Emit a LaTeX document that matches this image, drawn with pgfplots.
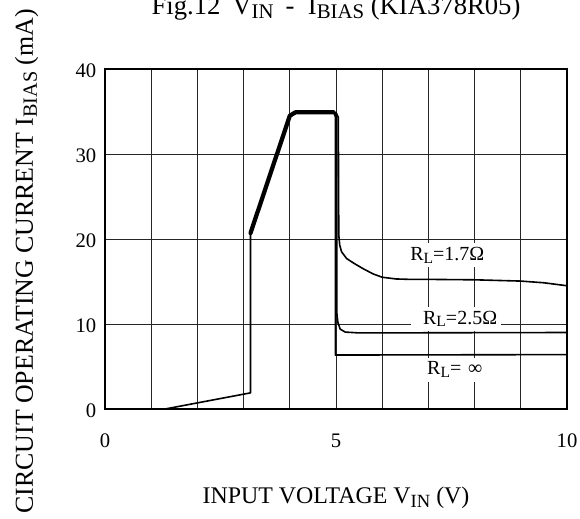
\documentclass[border=0pt]{standalone}
\usepackage{fontspec}
\setmainfont{Liberation Serif}
\usepackage{graphicx}
\usepackage{pgfplots}
\pgfplotsset{compat=1.18}
% lowered, slightly reduced subscript as in the datasheet
\newcommand{\sub}[1]{\raisebox{-0.32ex}{\scalebox{0.78}{#1}}}

\begin{document}
\begin{tikzpicture}
\begin{axis}[
  at={(0,0)}, anchor=south west,
  scale only axis, width=346.5pt, height=255pt,
  xmin=0, xmax=10, ymin=0, ymax=40,
  xtick={0,5,10}, minor xtick={1,2,3,4,6,7,8,9},
  ytick={0,10,20,30,40},
  grid=both,
  major grid style={draw=black!85, line width=0.7pt},
  minor grid style={draw=black!85, line width=0.7pt},
  axis line style={line width=1.5pt},
  major tick length=0pt, minor tick length=0pt,
  /pgf/number format/assume math mode=true,
  tick label style={font=\fontsize{15.5}{18}\selectfont},
  xticklabel style={anchor=base, yshift=-29pt},
  yticklabel style={anchor=east, xshift=-3pt, yshift=-1.5pt},
  title={Fig.12\hspace{9pt}V\sub{IN}\hspace{9pt}-\hspace{10pt}I\sub{BIAS} (KIA378R05)},
  every axis title shift=0pt,
  title style={at={(rel axis cs:0.5,1)}, anchor=base, yshift=41pt,
    font=\fontsize{20}{24}\selectfont},
  xlabel={INPUT VOLTAGE V\sub{IN} (V)},
  xlabel style={at={(rel axis cs:0.5,0)}, anchor=base, yshift=-71pt,
    font=\fontsize{17.9}{21}\selectfont},
  ylabel={CIRCUIT OPERATING CURRENT I\sub{BIAS} (mA)},
  ylabel style={at={([xshift=-54pt]rel axis cs:0,0.434)}, anchor=base,
    font=\fontsize{19.4}{23}\selectfont},
]
% labels first, so the curves lie over their white boxes
\node[fill=white, inner sep=3pt, font=\fontsize{15}{18}\selectfont]
  at (axis cs:7.41,18.1) {R\sub{L}=1.7Ω};
\node[fill=white, inner sep=3pt, font=\fontsize{15}{18}\selectfont]
  at (axis cs:7.6,10.6) {\hspace{6pt}R\sub{L}=2.5Ω};
\node[fill=white, inner sep=3pt, font=\fontsize{15}{18}\selectfont]
  at (axis cs:7.57,4.6) {R\sub{L}=\hspace{5pt}∞};

% common rising part
\addplot[black, line width=1.2pt, line join=round] coordinates {
  (1.3,0) (3.15,1.9) (3.15,20.7)
};
\addplot[black, line width=3.2pt, line join=round, line cap=round] coordinates {
  (3.15,20.7) (4.0,34.5) (4.12,34.9) (4.95,34.9)
};
% R_L = infinity
\addplot[black, line width=1.2pt, line join=round] coordinates {
  (4.95,34.9) (4.985,34.4) (4.985,6.35) (10,6.4)
};
% R_L = 2.5 ohm
\addplot[black, line width=1.2pt, line join=round] coordinates {
  (4.97,34.9) (5.02,34.2) (5.02,11.2) (5.04,10.2) (5.09,9.4) (5.2,9.05)
  (5.5,8.95) (10,9.0)
};
% R_L = 1.7 ohm
\addplot[black, line width=1.2pt, line join=round] coordinates {
  (5.0,34.9) (5.05,34.3) (5.06,20.5) (5.08,19.3) (5.12,18.5) (5.23,17.7)
  (5.4,17.1) (5.59,16.5) (5.8,15.9) (6.0,15.5) (6.3,15.3) (6.6,15.25)
  (7.0,15.25) (8.0,15.2) (9.0,15.05) (9.5,14.85) (10,14.5)
};
\end{axis}
\pgfresetboundingbox
\path[use as bounding box] (-78.75pt,-81.75pt) rectangle (356.25pt,306.75pt);
\end{tikzpicture}
\end{document}
